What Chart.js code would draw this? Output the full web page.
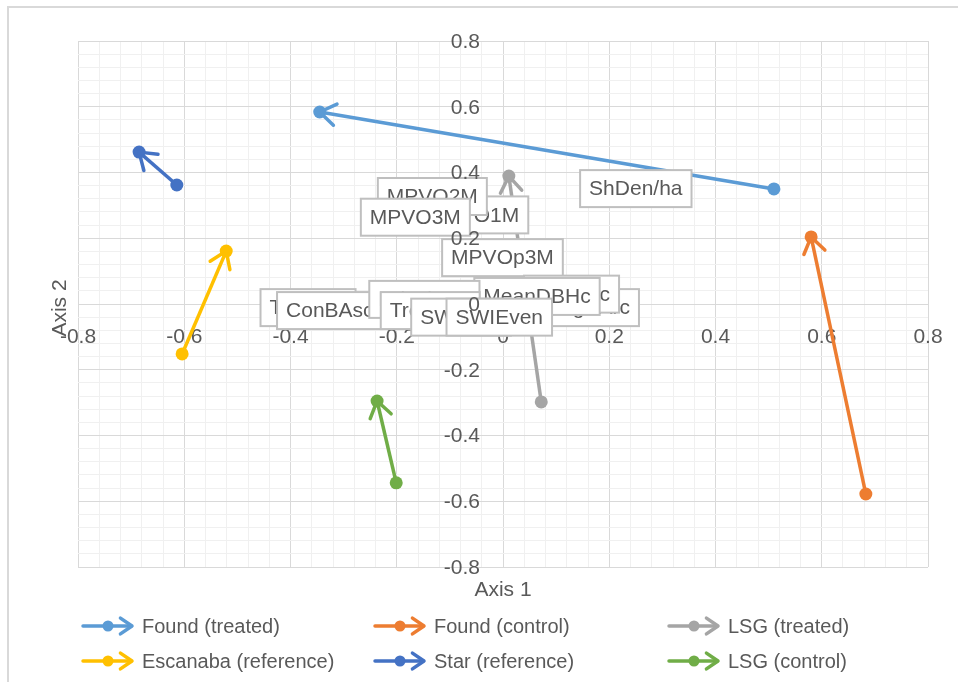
<!DOCTYPE html>
<html>
<head>
<meta charset="utf-8">
<script src="https://cdn.jsdelivr.net/npm/chart.js@4.4.1/dist/chart.umd.min.js"></script>
<style>
  html, body { margin: 0; padding: 0; background: #fff; }
</style>
</head>
<body>
<canvas id="chart" width="958" height="682"></canvas>
<script>
// series: each one is an arrow from a start point to an end point
const seriesNames = ["Found (treated)", "Found (control)", "LSG (treated)",
                     "Escanaba (reference)", "Star (reference)", "LSG (control)"];
const seriesColors = ["#5b9bd5", "#ed7d31", "#a5a5a5", "#ffc000", "#4472c4", "#70ad47"];
const startX = [0.51, 0.683, 0.072, -0.604, -0.614, -0.201];
const startY = [0.35, -0.578, -0.298, -0.152, 0.362, -0.544];
const endX = [-0.345, 0.58, 0.011, -0.521, -0.685, -0.237];
const endY = [0.584, 0.204, 0.389, 0.161, 0.462, -0.295];

// variable labels, listed bottom to top (later ones cover earlier ones)
const varNames = ["MPVO1M", "MPVO2M", "MPVO3M", "ShDen/ha", "MPVOp3M",
                  "SnagBArc", "ConBAc", "MeanDBHc", "TotBAsc", "ConBAsc",
                  "HdwdBAc", "TreeDen", "SWIRich", "SWIEven"];
const varX = [-0.055, -0.133, -0.165, 0.250, -0.001,
              0.150, 0.129, 0.064, -0.367, -0.326,
              -0.148, -0.137, -0.079, -0.007];
const varY = [0.271, 0.327, 0.264, 0.351, 0.141,
              -0.011, 0.030, 0.023, -0.011, -0.020,
              0.014, -0.020, -0.040, -0.040];

// axis ticks
const axisTicks = [-0.8, -0.6, -0.4, -0.2, 0, 0.2, 0.4, 0.6, 0.8];
const minorPerMajor = 5;

const FONT = "'Liberation Sans', Arial, sans-serif";
const TEXT = "#595959";

// major + minor grid values
const gridValues = [];
for (let i = 0; i < axisTicks.length - 1; i++) {
  const a = axisTicks[i], b = axisTicks[i + 1];
  for (let k = 0; k < minorPerMajor; k++) {
    gridValues.push(+(a + (b - a) * k / minorPerMajor).toFixed(4));
  }
}
gridValues.push(axisTicks[axisTicks.length - 1]);

const isMajor = v => axisTicks.some(t => Math.abs(t - v) < 1e-6);
const fmt = v => Math.abs(v) < 1e-9 ? "0" : v.toFixed(1);

function drawHead(ctx, from, to, color, len, lw) {
  const ang = Math.atan2(to.y - from.y, to.x - from.x);
  const spread = 0.6;
  ctx.save();
  ctx.strokeStyle = color;
  ctx.lineWidth = lw;
  ctx.lineCap = "round";
  ctx.lineJoin = "round";
  ctx.beginPath();
  ctx.moveTo(to.x - len * Math.cos(ang - spread), to.y - len * Math.sin(ang - spread));
  ctx.lineTo(to.x, to.y);
  ctx.lineTo(to.x - len * Math.cos(ang + spread), to.y - len * Math.sin(ang + spread));
  ctx.stroke();
  ctx.restore();
}

// frame, arrow heads, label boxes, y tick labels, axis titles, legend
const decorations = {
  id: "decorations",
  beforeDraw(chart) {
    const ctx = chart.ctx;
    ctx.save();
    ctx.fillStyle = "#fff";
    ctx.fillRect(0, 0, chart.width, chart.height);
    ctx.strokeStyle = "#d9d9d9";
    ctx.lineWidth = 2;
    ctx.strokeRect(8, 7, chart.width + 20, chart.height + 20);
    ctx.restore();
  },
  afterDatasetsDraw(chart) {
    const ctx = chart.ctx;
    chart.data.datasets.forEach((ds, i) => {
      const pts = chart.getDatasetMeta(i).data;
      drawHead(ctx, pts[0], pts[1], ds.borderColor, 19, 3.5);
    });

    const sx = chart.scales.x, sy = chart.scales.y;
    ctx.save();
    ctx.font = "21px " + FONT;
    ctx.textAlign = "center";
    ctx.textBaseline = "middle";
    varNames.forEach((name, i) => {
      const cx = sx.getPixelForValue(varX[i]);
      const cy = sy.getPixelForValue(varY[i]);
      const w = ctx.measureText(name).width + 18, h = 37;
      ctx.fillStyle = "#fff";
      ctx.fillRect(cx - w / 2, cy - h / 2, w, h);
      ctx.strokeStyle = "#bfbfbf";
      ctx.lineWidth = 2;
      ctx.strokeRect(cx - w / 2, cy - h / 2, w, h);
      ctx.fillStyle = TEXT;
      ctx.fillText(name, cx, cy + 1);
    });

    // y tick labels sit on top of the label boxes
    const x0 = sx.getPixelForValue(0);
    ctx.textAlign = "right";
    axisTicks.forEach(v => {
      ctx.fillText(fmt(v), x0 - 23, sy.getPixelForValue(v) + 1);
    });
    ctx.restore();
  },
  afterDraw(chart) {
    const ctx = chart.ctx;
    const area = chart.chartArea;
    ctx.save();
    ctx.fillStyle = TEXT;
    ctx.font = "21px " + FONT;
    ctx.textAlign = "center";
    ctx.textBaseline = "middle";
    ctx.fillText("Axis 1", (area.left + area.right) / 2, area.bottom + 23);
    ctx.save();
    ctx.translate(area.left - 18, (area.top + area.bottom) / 2 + 4);
    ctx.rotate(-Math.PI / 2);
    ctx.fillText("Axis 2", 0, 0);
    ctx.restore();

    // legend: 3 columns x 2 rows
    const colX = [83, 375, 669], rowY = [626, 661];
    ctx.font = "20px " + FONT;
    ctx.textAlign = "left";
    chart.data.datasets.forEach((ds, i) => {
      const x = colX[i % 3], y = rowY[Math.floor(i / 3)];
      ctx.strokeStyle = ds.borderColor;
      ctx.fillStyle = ds.borderColor;
      ctx.lineWidth = 3.5;
      ctx.lineCap = "round";
      ctx.beginPath();
      ctx.moveTo(x, y);
      ctx.lineTo(x + 48, y);
      ctx.stroke();
      ctx.beginPath();
      ctx.arc(x + 25, y, 5.5, 0, Math.PI * 2);
      ctx.fill();
      drawHead(ctx, {x: x, y: y}, {x: x + 49, y: y}, ds.borderColor, 14, 3.5);
      ctx.fillStyle = TEXT;
      ctx.fillText(ds.label, x + 59, y + 1);
    });
    ctx.restore();
  }
};

const tickFont = { family: FONT, size: 21 };
const gridColor = ctx => isMajor(ctx.tick.value) ? "#d9d9d9" : "#f0f0f0";
// the plot box is set by layout padding alone
const noScalePadding = s => {
  s.paddingLeft = 0; s.paddingRight = 0; s.paddingTop = 0; s.paddingBottom = 0;
};

new Chart(document.getElementById("chart"), {
  type: "scatter",
  data: {
    datasets: seriesNames.map((name, i) => ({
      label: name,
      data: [{ x: startX[i], y: startY[i] }, { x: endX[i], y: endY[i] }],
      showLine: true,
      borderColor: seriesColors[i],
      backgroundColor: seriesColors[i],
      borderWidth: 3.5,
      pointRadius: 6.5,
      pointHoverRadius: 6.5,
      pointBorderWidth: 0
    }))
  },
  options: {
    responsive: false,
    animation: false,
    devicePixelRatio: 1,
    layout: { padding: { left: 78, right: 30, top: 41, bottom: 115 } },
    plugins: {
      legend: { display: false },
      tooltip: { enabled: false }
    },
    scales: {
      x: {
        type: "linear",
        min: -0.8, max: 0.8,
        position: { y: 0 },
        afterBuildTicks: s => { s.ticks = gridValues.map(v => ({ value: v })); },
        afterFit: noScalePadding,
        ticks: {
          autoSkip: false, maxRotation: 0, padding: 21,
          color: TEXT, font: tickFont,
          callback: v => isMajor(v) ? fmt(v) : ""
        },
        grid: { drawTicks: false, color: gridColor },
        border: { display: false }
      },
      y: {
        type: "linear",
        min: -0.8, max: 0.8,
        position: { x: 0 },
        afterBuildTicks: s => { s.ticks = gridValues.map(v => ({ value: v })); },
        afterFit: noScalePadding,
        ticks: { display: false },
        grid: { drawTicks: false, color: gridColor },
        border: { display: false }
      }
    }
  },
  plugins: [decorations]
});
</script>
</body>
</html>
